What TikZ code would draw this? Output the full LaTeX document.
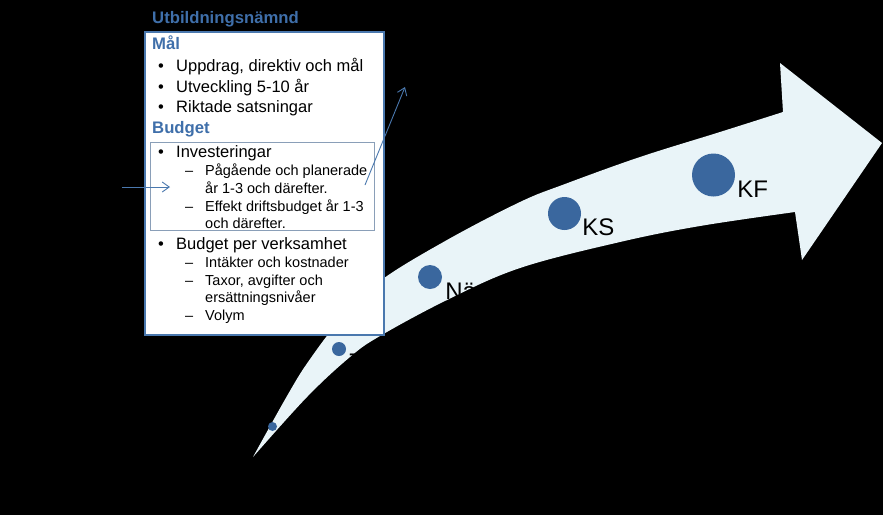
\documentclass[tikz,border=0pt]{standalone}
\usepackage{fontspec}
\setmainfont{Liberation Sans}
\usepackage{xcolor}
\usepackage{tikz}
\usetikzlibrary{shapes,arrows,arrows.meta,positioning}

\definecolor{flowfill}{HTML}{E9F4F8}
\definecolor{dotblue}{HTML}{3A679E}
\definecolor{titleblue}{HTML}{3F6FAA}
\definecolor{frameblue}{HTML}{4A78AE}
\definecolor{innerframe}{HTML}{8A9FB8}

\begin{document}
\begin{tikzpicture}[x=1pt, y=-1pt]
    % Define styles
    \tikzstyle{stage} = [circle, fill=dotblue, inner sep=0pt]
    \tikzstyle{stagelabel} = [anchor=base west, inner sep=0pt, font=\fontsize{24}{26}\selectfont]
    \tikzstyle{panel} = [rectangle, draw=frameblue, line width=1.6pt, fill=white, anchor=north west, inner sep=0pt]
    \tikzstyle{subpanel} = [rectangle, draw=innerframe, line width=0.8pt, anchor=north west, inner sep=0pt]
    \tikzstyle{head} = [anchor=base west, inner sep=0pt, text=titleblue, font=\bfseries\fontsize{16.7}{18}\selectfont]
    \tikzstyle{entry} = [anchor=base west, inner sep=0pt, font=\fontsize{16.5}{18}\selectfont]
    \tikzstyle{subentry} = [anchor=base west, inner sep=0pt, font=\fontsize{14.5}{17}\selectfont]
    \tikzstyle{pointer} = [line width=0.9pt, draw=frameblue, -{Straight Barb[length=7pt, width=10pt]}]

    % Background
    \fill[black] (0,0) rectangle (883,515);
    \useasboundingbox (0,0) rectangle (883,515);

    % Curved flow arrow
    \fill[flowfill] plot[smooth, tension=0.6] coordinates {(253,457) (287,396) (308,362) (340,320)
            (380,281) (447,240) (520,202) (565,184) (640,157) (720,132) (783,112)}
        -- (780,63) -- (882,143) -- (802,260) -- (795,212)
        -- plot[smooth, tension=0.6] coordinates {(795,212) (700,226) (620,242) (520,268)
            (447,300) (380,336) (350,357) (307,397) (253,457)} -- cycle;

    % Stages
    \node [stage, minimum size=9pt] (start) at (272.5,426.5) {};
    \node [stage, minimum size=14pt] (tj) at (339,349) {};
    \node [stage, minimum size=24pt] (nd) at (430,277) {};
    \node [stage, minimum size=33pt] (ks) at (564.5,213.5) {};
    \node [stage, minimum size=43pt] (kf) at (713.5,175) {};

    \node [stagelabel] (tjlabel) at ([xshift=3pt, yshift=-21pt]tj.east) {T};
    \node [stagelabel] (ndlabel) at ([xshift=3pt, yshift=-22pt]nd.east) {Nä};
    \node [stagelabel] (kslabel) at ([xshift=1pt, yshift=-22pt]ks.east) {KS};
    \node [stagelabel] (kflabel) at ([xshift=2pt, yshift=-22pt]kf.east) {KF};

    % Panel
    \node [head] (title) at (152,23) {Utbildningsnämnd};
    \node [panel, minimum width=239pt, minimum height=303pt] (box) at (144,31) {};
    \node [subpanel, minimum width=224pt, minimum height=88pt] (invbox) at (150,142) {};

    \node [head] (mal) at (152,49) {Mål};
    \node [entry] (mal1) at (158,71) {\makebox[18pt][l]{•}Uppdrag, direktiv och mål};
    \node [entry] (mal2) at (158,92) {\makebox[18pt][l]{•}Utveckling 5-10 år};
    \node [entry] (mal3) at (158,112) {\makebox[18pt][l]{•}Riktade satsningar};
    \node [head] (budget) at (152,133) {Budget};
    \node [entry] (inv) at (158,157) {\makebox[18pt][l]{•}Investeringar};
    \node [subentry] (inv1) at (185,175) {\makebox[20pt][l]{–}Pågående och planerade};
    \node [subentry] (inv1b) at (205,193) {år 1-3 och därefter.};
    \node [subentry] (inv2) at (185,211) {\makebox[20pt][l]{–}Effekt driftsbudget år 1-3};
    \node [subentry] (inv2b) at (205,228) {och därefter.};
    \node [entry] (verk) at (158,249) {\makebox[18pt][l]{•}Budget per verksamhet};
    \node [subentry] (verk1) at (185,267) {\makebox[20pt][l]{–}Intäkter och kostnader};
    \node [subentry] (verk2) at (185,285) {\makebox[20pt][l]{–}Taxor, avgifter och};
    \node [subentry] (verk2b) at (205,302) {ersättningsnivåer};
    \node [subentry] (verk3) at (185,320) {\makebox[20pt][l]{–}Volym};

    % Arrows
    \coordinate (infrom) at (122,187);
    \coordinate (into) at (170,187);
    \coordinate (outfrom) at (365,185);
    \coordinate (outto) at (405,87);
    \draw [pointer] (infrom) -- (into);
    \draw [pointer] (outfrom) -- (outto);
\end{tikzpicture}
\end{document}
